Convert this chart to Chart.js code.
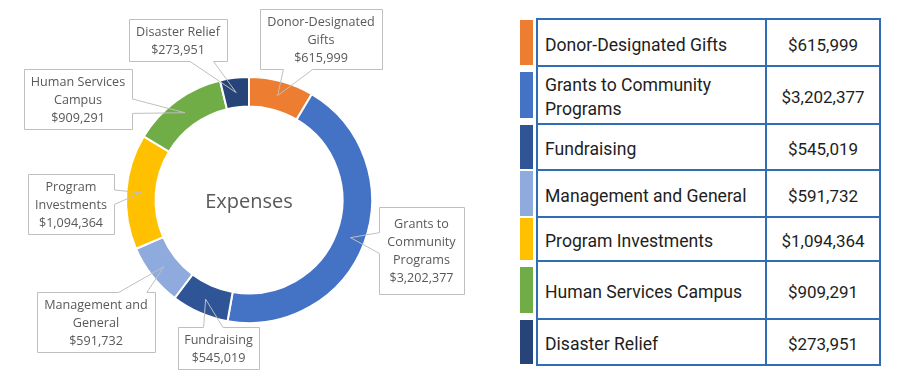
<!DOCTYPE html>
<html><head><meta charset="utf-8">
<script src="https://cdn.jsdelivr.net/npm/chart.js@4/dist/chart.umd.min.js"></script>
<style>
html,body{margin:0;padding:0;background:#fff;width:904px;height:383px;overflow:hidden;}
#wrap{position:relative;width:904px;height:383px;}
#chartBox{position:absolute;left:0;top:0;width:500px;height:383px;}
#tbl{position:absolute;left:536px;top:18px;border-collapse:collapse;font-family:Roboto,sans-serif;font-size:17px;color:#1e1e1e;}
#tbl td{border:2px solid #2F6DB5;padding:0;padding-top:4px;vertical-align:middle;box-sizing:border-box;}
#tbl td.lab{width:229px;padding-left:7px;padding-right:7px;line-height:24px;font-size:17.6px;}
#tbl td.val{width:114px;text-align:center;}
.sw{position:absolute;left:520px;width:13px;}
</style></head>
<body><div id="wrap">
<div id="chartBox"><canvas id="c"></canvas></div>
<table id="tbl"><tbody></tbody></table>
</div>
<script>
const categories = ["Donor-Designated Gifts","Grants to Community Programs","Fundraising","Management and General","Program Investments","Human Services Campus","Disaster Relief"];
const amounts = [615999,3202377,545019,591732,1094364,909291,273951];
const amountLabels = ["$615,999","$3,202,377","$545,019","$591,732","$1,094,364","$909,291","$273,951"];
const centerTitle = "Expenses";

// styling / layout (not data)
const colors = ["#ED7D31","#4472C4","#2F5597","#8FAADC","#FFC000","#70AD47","#264478"];
const calloutBoxes = [[260,9,122,60],[379,207,85,87],[178,327,81,42],[37,292,118,60],[28,174,86,60],[24,69,108,60],[129,19,98,42]];
const rowHeights = [47,58,46,47,44,58,46];

// table
const tb = document.querySelector('#tbl tbody');
categories.forEach((c,i)=>{
  const tr=document.createElement('tr');
  tr.style.height=rowHeights[i]+'px';
  const a=document.createElement('td'); a.className='lab'; a.textContent=c;
  const b=document.createElement('td'); b.className='val'; b.textContent=amountLabels[i];
  tr.appendChild(a); tr.appendChild(b); tb.appendChild(tr);
});
const tblEl=document.getElementById('tbl');
const wrap=document.getElementById('wrap');
Array.from(tb.rows).forEach((tr,i)=>{
  const h=tr.offsetHeight, top=tblEl.offsetTop+tr.offsetTop;
  const sh=Math.min(h-2,46);
  const d=document.createElement('div'); d.className='sw';
  d.style.top=(top+(h-sh)/2+1)+'px'; d.style.height=sh+'px'; d.style.background=colors[i];
  wrap.appendChild(d);
});

function wrapLines(ctx,text,maxW){
  const words=text.split(' '); const lines=[]; let cur='';
  words.forEach(w=>{
    const t=cur?cur+' '+w:w;
    if(cur && ctx.measureText(t).width>maxW){lines.push(cur);cur=w;} else cur=t;
  });
  if(cur) lines.push(cur);
  return lines;
}
function clamp(v,a,b){return Math.min(Math.max(v,a),b);}
function wedgePath(ctx,x,y,w,h,tx,ty){
  const cx=x+w/2, cy=y+h/2, dx=tx-cx, dy=ty-cy;
  const sx=dx!==0?(w/2)/Math.abs(dx):Infinity;
  const sy=dy!==0?(h/2)/Math.abs(dy):Infinity;
  let side, base;
  if(sx<sy){
    const half=h*0.12; const c=clamp(cy+dy*sx,y+half+2,y+h-half-2);
    if(dx>0){side='right';base=[[x+w,c-half],[x+w,c+half]];}
    else {side='left';base=[[x,c+half],[x,c-half]];}
  } else {
    const half=w*0.12; const c=clamp(cx+dx*sy,x+half+2,x+w-half-2);
    if(dy>0){side='bottom';base=[[c+half,y+h],[c-half,y+h]];}
    else {side='top';base=[[c-half,y],[c+half,y]];}
  }
  const wedge=()=>{ctx.lineTo(base[0][0],base[0][1]);ctx.lineTo(tx,ty);ctx.lineTo(base[1][0],base[1][1]);};
  ctx.beginPath(); ctx.moveTo(x,y);
  if(side==='top') wedge();
  ctx.lineTo(x+w,y);
  if(side==='right') wedge();
  ctx.lineTo(x+w,y+h);
  if(side==='bottom') wedge();
  ctx.lineTo(x,y+h);
  if(side==='left') wedge();
  ctx.closePath();
}

const calloutPlugin={
  id:'callouts',
  afterDatasetsDraw(chart){
    const ctx=chart.ctx; const meta=chart.getDatasetMeta(0);
    ctx.save();
    meta.data.forEach((arc,i)=>{
      const tip=arc.tooltipPosition();
      const [bx,by,bw,bh]=calloutBoxes[i];
      ctx.fillStyle='#ffffff';
      ctx.fillRect(bx,by,bw,bh);
      wedgePath(ctx,bx+0.5,by+0.5,bw,bh,tip.x,tip.y);
      ctx.strokeStyle='#BFBFBF'; ctx.lineWidth=1; ctx.stroke();
      ctx.font='12.6px "Open Sans", sans-serif';
      ctx.fillStyle='#595959'; ctx.textAlign='center'; ctx.textBaseline='middle';
      const lines=wrapLines(ctx,categories[i],bw-4).concat([amountLabels[i]]);
      const lh=18; const cy=by+bh/2+1;
      lines.forEach((l,k)=>{ctx.fillText(l,bx+bw/2,cy+(k-(lines.length-1)/2)*lh);});
    });
    const a0=meta.data[0];
    ctx.font='20px "Open Sans", sans-serif'; ctx.fillStyle='#595959';
    ctx.textAlign='center'; ctx.textBaseline='middle';
    ctx.fillText(centerTitle,a0.x,a0.y+2);
    ctx.restore();
  }
};

new Chart(document.getElementById('c'),{
  type:'doughnut',
  data:{labels:categories,datasets:[{data:amounts,backgroundColor:colors,borderColor:'#ffffff',borderWidth:2}]},
  options:{
    responsive:true,maintainAspectRatio:false,animation:false,
    cutout:'76%',
    layout:{padding:{left:125,right:127,top:76,bottom:59}},
    plugins:{legend:{display:false},tooltip:{enabled:false}}
  },
  plugins:[calloutPlugin]
});
</script>
</body></html>
